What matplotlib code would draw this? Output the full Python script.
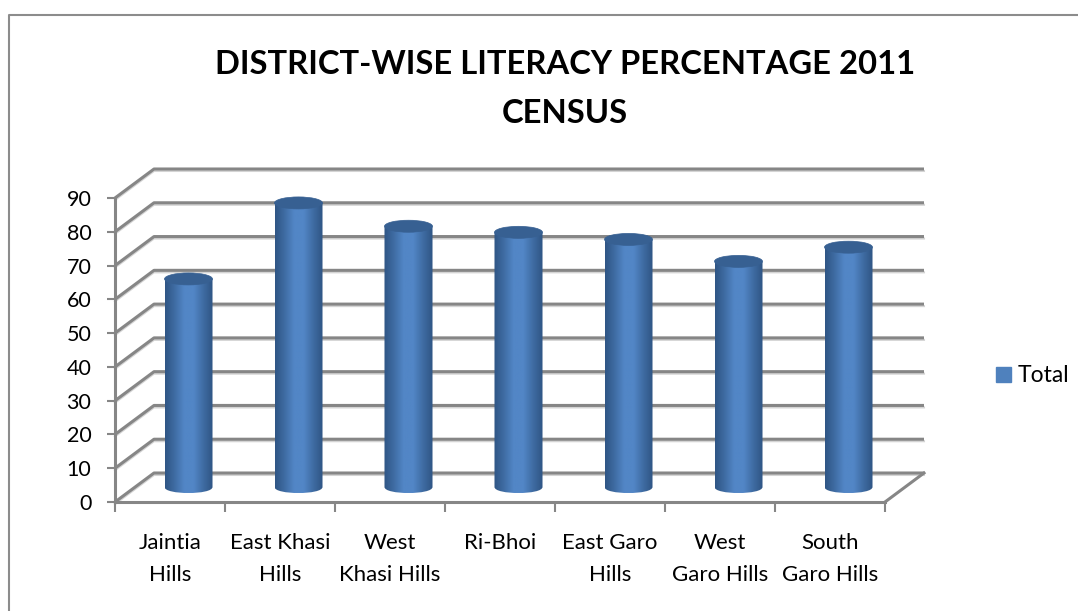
import numpy as np
import matplotlib
matplotlib.use('Agg')
import matplotlib.pyplot as plt
from matplotlib.colors import LinearSegmentedColormap
from matplotlib.lines import Line2D
from matplotlib.patches import Ellipse, Patch, PathPatch
from matplotlib.path import Path

districts = ['Jaintia\nHills', 'East Khasi\nHills', 'West\nKhasi Hills', 'Ri-Bhoi',
             'East Garo\nHills', 'West\nGaro Hills', 'South\nGaro Hills']
literacy = [61.6, 84.1, 77.2, 75.4, 73.3, 66.8, 71.0]
y_ticks = list(range(0, 100, 10))
title = 'DISTRICT-WISE LITERACY PERCENTAGE 2011\nCENSUS'

W, H = 1078, 611
plt.rcParams['font.family'] = ['Lato', 'DejaVu Sans']

fig = plt.figure(figsize=(W / 100, H / 100), dpi=100)
# front plane of the fake 3d box, pixels 115..885 and 198..502
ax = fig.add_axes([115 / W, 1 - 502 / H, (885 - 115) / W, (502 - 198) / H])
ax.set_xlim(0, 7)
ax.set_ylim(0, 90)
ax.patch.set_alpha(0)

px_x = 7 / (885 - 115)
px_y = 90 / (502 - 198)
back_x, back_y = 39 * px_x, 29 * px_y
mid_x, mid_y = 18.5 * px_x, 15 * px_y
grid_col = '#868686'

# walls and gridlines
for v in y_ticks:
    xs = [0, back_x, 7 + back_x]
    ys = [v, v + back_y, v + back_y]
    ax.plot(xs, np.array(ys) - 2 * px_y, color='#d4d4d4', lw=1.5, clip_on=False, zorder=1)
    ax.plot(xs, ys, color=grid_col, lw=2.2, clip_on=False, zorder=2, solid_capstyle='butt')
ax.plot([7, 7 + back_x], [0, back_y], color=grid_col, lw=2.2, clip_on=False, zorder=2)

# cylinders
cmap = LinearSegmentedColormap.from_list('cyl', ['#2f5584', '#3f6ca3', '#5286c6', '#5286c6', '#3f6ca3', '#2f5584'])
grad = np.linspace(0, 1, 128).reshape(1, -1)
bar_w = 48 * px_x
ell_h = 12 * px_y
for i, v in enumerate(literacy):
    cx = i + 0.5 + mid_x
    x0, x1 = cx - bar_w / 2, cx + bar_w / 2
    y0, y1 = mid_y, v + mid_y
    # side of the cylinder, rounded at the bottom
    side = Path([(x0, y1), (x0, y0), (x0, y0 - ell_h * 0.67), (x1, y0 - ell_h * 0.67),
                 (x1, y0), (x1, y1), (x0, y1)],
                [Path.MOVETO, Path.LINETO, Path.CURVE4, Path.CURVE4, Path.CURVE4, Path.LINETO, Path.CLOSEPOLY])
    clip = PathPatch(side, transform=ax.transData, fc='none', ec='none')
    ax.add_patch(clip)
    im = ax.imshow(grad, extent=(x0, x1, y0 - ell_h, y1), aspect='auto', cmap=cmap, zorder=4, clip_on=True)
    im.set_clip_path(clip)
    ax.add_patch(Ellipse((cx, y1), bar_w, ell_h, fc='#376092', ec='#376092', lw=0.5, zorder=5, clip_on=False))
ax.set_xlim(0, 7)
ax.set_ylim(0, 90)

# axes
for s in ['top', 'right']:
    ax.spines[s].set_visible(False)
for s in ['left', 'bottom']:
    ax.spines[s].set_color(grid_col)
    ax.spines[s].set_linewidth(2.2)
    ax.spines[s].set_zorder(6)
ax.set_yticks(y_ticks)
ax.tick_params(axis='y', length=6, width=1.5, color=grid_col, labelsize=15.5, pad=11)
ax.set_xticks(range(8))
ax.set_xticklabels([])
ax.set_xticks(np.arange(7) + 0.5, labels=districts, minor=True)
ax.tick_params(axis='x', which='major', length=7, width=1.5, color=grid_col)
ax.tick_params(axis='x', which='minor', length=0, labelsize=16, pad=22)
for t in ax.get_xticklabels(minor=True):
    t.set_linespacing(1.8)
    t.set_verticalalignment('top')

fig.text(565 / W, 1 - 89 / H, title, fontsize=23.6, fontweight='bold', ha='center', va='center',
         linespacing=1.85, color='black')

# legend
fig.legend(handles=[Patch(color='#4f81bd', label='Total')], loc='center left',
           bbox_to_anchor=(996 / W, 1 - 376 / H), frameon=False, fontsize=16.5,
           handlelength=0.65, handleheight=0.65, handletextpad=0.3, borderpad=0, borderaxespad=0)

# chart frame
fig.add_artist(Line2D([9 / W, 9 / W, 1], [0, 1 - 15 / H, 1 - 15 / H], transform=fig.transFigure,
                      color='#8c8c8c', lw=1.5))

fig.savefig('out.png', dpi=100, facecolor='white')
